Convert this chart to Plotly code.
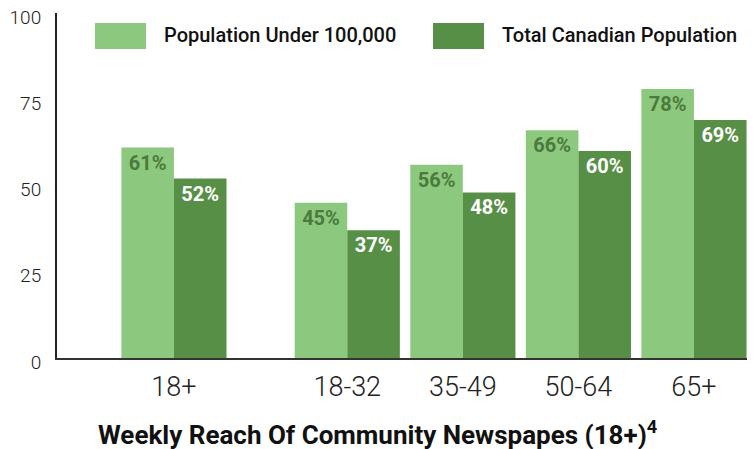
import plotly.graph_objects as go

categories = ["18+", "18-32", "35-49", "50-64", "65+"]
x_positions = [0, 1.5, 2.5, 3.5, 4.5]
under_100k = [61, 45, 56, 66, 78]
total_canada = [52, 37, 48, 60, 69]
y_ticks = [0, 25, 50, 75, 100]
series_names = ["Population Under 100,000", "Total Canadian Population"]

LIGHT = "#8cc97e"
DARK = "#578f46"
LABEL_DARK = "#4b7a3c"
FONT = "Roboto"

# page body adds an 8px offset; the figure is sized to the visible area
OFF = 8
W, H = 755 - OFF, 449 - OFF
ML, MR, MT, MB = 57 - OFF, 5, 13 - OFF, 91
PW, PH = W - ML - MR, H - MT - MB


def px_x(p):
    return (p - OFF - ML) / PW


def px_y(p):
    return (H - MB - (p - OFF)) / PH


fig = go.Figure()
fig.add_trace(go.Bar(
    x=x_positions, y=under_100k, name=series_names[0],
    marker=dict(color=LIGHT, line=dict(width=0)),
    text=[f"{v}%" for v in under_100k], textposition="inside",
    insidetextanchor="end", textangle=0, constraintext="none",
    textfont=dict(family=FONT, size=20, color=LABEL_DARK, weight=700),
))
fig.add_trace(go.Bar(
    x=x_positions, y=total_canada, name=series_names[1],
    marker=dict(color=DARK, line=dict(width=0)),
    text=[f"{v}%" for v in total_canada], textposition="inside",
    insidetextanchor="end", textangle=0, constraintext="none",
    textfont=dict(family=FONT, size=20, color="white", weight=700),
))

fig.update_layout(
    width=W, height=H,
    margin=dict(l=ML, r=MR, t=MT, b=MB, autoexpand=False),
    plot_bgcolor="white", paper_bgcolor="white",
    barmode="group", bargap=0.09, bargroupgap=0,
    showlegend=False,
    font=dict(family=FONT, color="#222"),
    xaxis=dict(
        range=[-1.012, 4.985], tickvals=x_positions, ticktext=categories,
        showgrid=False, zeroline=False, showline=True, linecolor="#333",
        linewidth=2, ticks="", tickfont=dict(size=27, weight=300, color="#222"),
        ticklabelstandoff=4, automargin=False,
    ),
    yaxis=dict(
        range=[0, 100], tickvals=y_ticks, showgrid=False, zeroline=False,
        showline=True, linecolor="#222", linewidth=2, ticks="",
        tickfont=dict(size=19, weight=300, color="#222"),
        ticklabelstandoff=10, ticklabelshift=4, ticklabeloverflow="allow",
        automargin=False,
    ),
)

# custom legend (large swatches)
legend_items = [(95, 146, 162, LIGHT), (433, 484, 500, DARK)]
for (x0, x1, tx, col), name in zip(legend_items, series_names):
    fig.add_shape(type="rect", xref="paper", yref="paper",
                  x0=px_x(x0), x1=px_x(x1), y0=px_y(49), y1=px_y(23),
                  fillcolor=col, line=dict(width=0), layer="above")
    fig.add_annotation(xref="paper", yref="paper", x=px_x(tx), y=px_y(35),
                       xanchor="left", yanchor="middle", showarrow=False,
                       text=name, font=dict(family=FONT, size=20, weight=500, color="#111"))

fig.add_annotation(xref="paper", yref="paper", x=px_x(377), y=px_y(433),
                   xanchor="center", yanchor="middle", showarrow=False,
                   text="Weekly Reach Of Community Newspapes (18+)<sup>4</sup>",
                   font=dict(family=FONT, size=26, weight=700, color="#111"))

fig.write_html("out.html")
